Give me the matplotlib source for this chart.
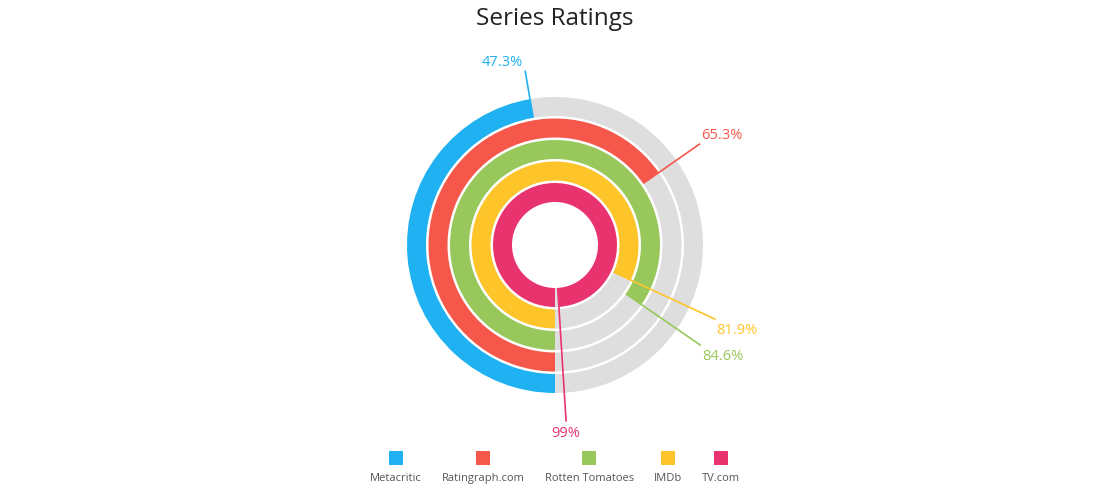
import numpy as np
import matplotlib
matplotlib.use("Agg")
import matplotlib.pyplot as plt

plt.rcParams['font.family'] = ['Open Sans', 'DejaVu Sans']

# data
sources = ["Metacritic", "Ratingraph.com", "Rotten Tomatoes", "IMDb", "TV.com"]
ratings = [47.3, 65.3, 84.6, 81.9, 99]
labels = ["47.3%", "65.3%", "84.6%", "81.9%", "99%"]
colors = ["#1FB1F1", "#F5574B", "#98C85B", "#FEC52B", "#E9336F"]
track = "#DEDEDE"

W, H = 1109, 488
fig = plt.figure(figsize=(W / 100, H / 100), dpi=100)
ax = fig.add_axes([0, 0, 1, 1])

cx, cy = 555, 243
r_out = 148
pitch = 21.5
width = 19
r_lab = 177

for i, (v, c, lab) in enumerate(zip(ratings, colors, labels)):
    r = r_out - i * pitch
    ax.pie([v, 100 - v], radius=r, center=(cx, cy), startangle=270,
           counterclock=False, colors=[c, track],
           wedgeprops=dict(width=width, linewidth=0))
    # leader line at end of the arc
    ang = np.deg2rad(-90 - v / 100 * 360)
    dx, dy = np.cos(ang), np.sin(ang)
    r0 = r - width
    x0, y0 = cx + r0 * dx, cy + r0 * dy
    x1, y1 = cx + r_lab * dx, cy + r_lab * dy
    ax.plot([x0, x1], [y0, y1], color=c, lw=1.2, solid_capstyle='butt')
    ha = 'left' if dx > 0.1 else ('right' if dx < -0.1 else 'center')
    va = 'bottom' if dy > 0 else 'top'
    ox = 0 if ha == 'center' else (1 if ha == 'left' else -2)
    oy = 1 if va == 'bottom' else -4
    ax.text(x1 + ox, y1 + oy, lab, color=c, fontsize=10.5, ha=ha, va=va)

ax.set_xlim(0, W)
ax.set_ylim(0, H)
ax.set_aspect('auto')
ax.axis('off')

ax.text(cx, H - 19, "Series Ratings", fontsize=17.5, color="#222222",
        ha='center', va='center')

# legend: square above label, items laid out from measured text widths
fig.canvas.draw()
rend = fig.canvas.get_renderer()
leg_texts = []
widths = []
for s in sources:
    t = ax.text(0, H - 481, s, fontsize=8, color="#555555", ha='center', va='baseline')
    leg_texts.append(t)
    widths.append(t.get_window_extent(rend).width)
gap = 20
total = sum(widths) + gap * (len(widths) - 1)
x = cx - total / 2
for t, w, c in zip(leg_texts, widths, colors):
    xc = x + w / 2
    t.set_x(xc)
    ax.scatter([xc], [H - 458], marker='s', s=90, color=c, linewidths=0)
    x += w + gap

fig.savefig("out.png", dpi=100)
